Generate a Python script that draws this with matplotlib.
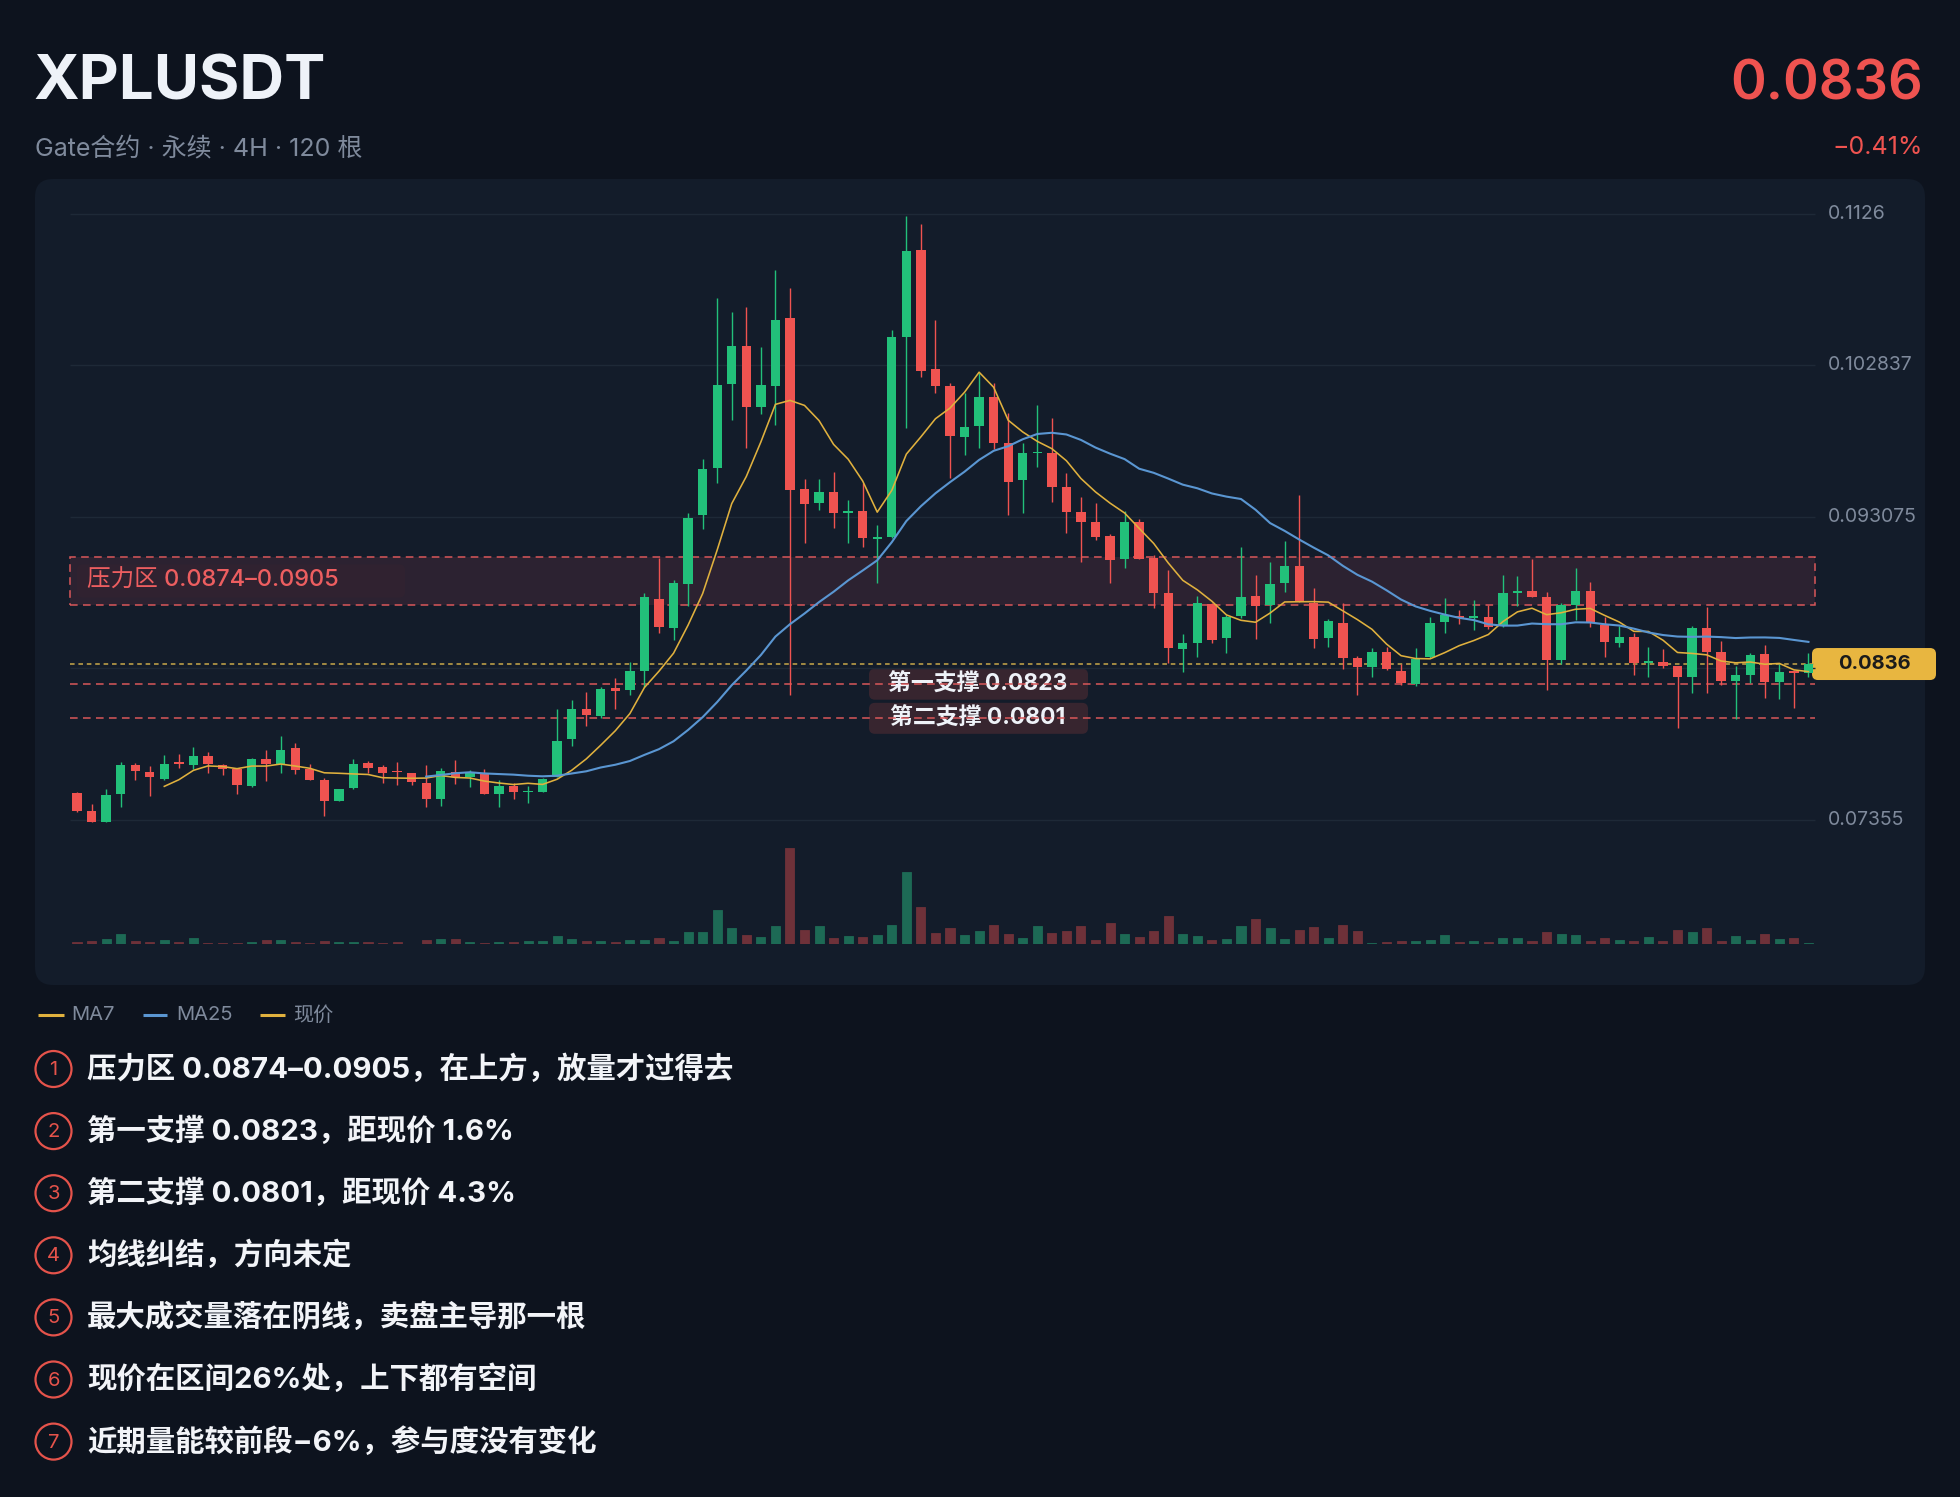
import numpy as np
import pandas as pd
import matplotlib
matplotlib.use("Agg")
import matplotlib.pyplot as plt
from matplotlib.patches import FancyBboxPatch, Rectangle, Circle

plt.rcParams['font.family'] = ['Inter', 'Noto Sans CJK SC', 'DejaVu Sans']

# ---- data ----
symbol = "XPLUSDT"
subtitle = "Gate合约 · 永续 · 4H · 120 根"
last_price_text = "0.0836"
change_text = "−0.41%"

opens = [0.07527, 0.07413, 0.07344, 0.0752, 0.07709, 0.07666, 0.07621, 0.07729, 0.07709, 0.07767,
         0.07709, 0.07681, 0.07574, 0.07746, 0.07716, 0.07817, 0.07681, 0.07613, 0.07477, 0.07559,
         0.0772, 0.07694, 0.0767, 0.07656, 0.07595, 0.07492, 0.07666, 0.0763, 0.07651, 0.07522,
         0.07574, 0.07535, 0.07537, 0.07634, 0.07876, 0.0807, 0.08027, 0.08203, 0.08191, 0.08313,
         0.08778, 0.08592, 0.08877, 0.09319, 0.09622, 0.10167, 0.1041, 0.10014, 0.1015, 0.10587,
         0.0949, 0.094, 0.0947, 0.09332, 0.09348, 0.09163, 0.09176, 0.10465, 0.11029, 0.10258,
         0.10152, 0.09825, 0.09894, 0.10079, 0.09786, 0.09546, 0.09717, 0.09717, 0.09499, 0.09338,
         0.09277, 0.09185, 0.09034, 0.09277, 0.09041, 0.08816, 0.08455, 0.08493, 0.08747, 0.08526,
         0.0867, 0.08798, 0.0874, 0.08885, 0.08992, 0.08755, 0.08526, 0.08626, 0.08397, 0.08343,
         0.0844, 0.08317, 0.08232, 0.08403, 0.08633, 0.0867, 0.08657, 0.08661, 0.08605, 0.08818,
         0.08829, 0.0879, 0.08386, 0.0874, 0.08829, 0.08611, 0.08497, 0.08532, 0.08369, 0.08375,
         0.08347, 0.08274, 0.0859, 0.0844, 0.08253, 0.08289, 0.08425, 0.08246, 0.08317, 0.083]
highs = [0.07535, 0.07458, 0.07552, 0.07726, 0.0772, 0.07703, 0.07774, 0.0778, 0.07823, 0.07795,
         0.07716, 0.07681, 0.07753, 0.07806, 0.07896, 0.07849, 0.07714, 0.07623, 0.07557, 0.07746,
         0.07737, 0.07709, 0.07726, 0.0766, 0.07709, 0.07688, 0.07742, 0.07677, 0.07681, 0.07613,
         0.07591, 0.07574, 0.07625, 0.0807, 0.08131, 0.0818, 0.08215, 0.08269, 0.08373, 0.08817,
         0.09045, 0.08899, 0.09331, 0.09682, 0.10717, 0.10628, 0.1066, 0.10403, 0.10902, 0.10786,
         0.09554, 0.0955, 0.09599, 0.09417, 0.09524, 0.09256, 0.10512, 0.11247, 0.11196, 0.10577,
         0.10169, 0.10104, 0.10233, 0.10169, 0.09976, 0.09782, 0.10029, 0.09943, 0.09589, 0.09438,
         0.09396, 0.09198, 0.09348, 0.09292, 0.09062, 0.08966, 0.08553, 0.08798, 0.08755, 0.08676,
         0.09116, 0.08934, 0.09019, 0.09155, 0.09449, 0.08848, 0.08648, 0.08751, 0.08412, 0.08461,
         0.08472, 0.0836, 0.08461, 0.08661, 0.08783, 0.08705, 0.08772, 0.0874, 0.08934, 0.08927,
         0.09035, 0.08823, 0.08751, 0.08977, 0.08891, 0.08661, 0.08605, 0.08562, 0.08468, 0.08455,
         0.08347, 0.08605, 0.08725, 0.0851, 0.08347, 0.08433, 0.08483, 0.0836, 0.0832, 0.08433]
lows = [0.07405, 0.07344, 0.07344, 0.0744, 0.07613, 0.07512, 0.07613, 0.07688, 0.07681, 0.0766,
        0.07645, 0.07522, 0.07566, 0.07608, 0.0766, 0.07651, 0.07613, 0.07383, 0.07477, 0.07552,
        0.0766, 0.07591, 0.07578, 0.0758, 0.0744, 0.07445, 0.07587, 0.0757, 0.07522, 0.0744,
        0.07488, 0.07466, 0.07537, 0.07634, 0.07832, 0.0796, 0.0801, 0.0807, 0.08162, 0.08215,
        0.0856, 0.08512, 0.08737, 0.09229, 0.09525, 0.09932, 0.0975, 0.09973, 0.099, 0.08162,
        0.09142, 0.0935, 0.09235, 0.09138, 0.09112, 0.0888, 0.0917, 0.09879, 0.10212, 0.10104,
        0.09557, 0.09707, 0.0975, 0.09743, 0.0932, 0.09335, 0.09632, 0.09406, 0.09202, 0.0902,
        0.09159, 0.0888, 0.08977, 0.09034, 0.08719, 0.08369, 0.08311, 0.08403, 0.08497, 0.08429,
        0.08655, 0.08519, 0.08622, 0.08826, 0.08762, 0.08461, 0.08472, 0.08326, 0.0816, 0.08274,
        0.08322, 0.08225, 0.08218, 0.08397, 0.08562, 0.08618, 0.08577, 0.08584, 0.08597, 0.08734,
        0.0879, 0.08193, 0.0836, 0.08644, 0.08601, 0.08407, 0.08468, 0.08289, 0.08274, 0.08333,
        0.07946, 0.08171, 0.08176, 0.08225, 0.08004, 0.08236, 0.08139, 0.08132, 0.08075, 0.08274]
closes = [0.07415, 0.07344, 0.07514, 0.07709, 0.07673, 0.0763, 0.07716, 0.07714, 0.07767, 0.07714,
          0.07681, 0.07578, 0.07746, 0.07716, 0.07806, 0.07677, 0.07613, 0.07477, 0.07557, 0.07716,
          0.07692, 0.0766, 0.07662, 0.07602, 0.07488, 0.0767, 0.0763, 0.07666, 0.07522, 0.07574,
          0.07535, 0.07543, 0.07619, 0.07864, 0.0807, 0.08034, 0.08196, 0.08186, 0.08318, 0.08793,
          0.08599, 0.08882, 0.09302, 0.09617, 0.10155, 0.1041, 0.10014, 0.10155, 0.1058, 0.09481,
          0.09391, 0.0947, 0.09335, 0.09348, 0.0917, 0.09176, 0.10465, 0.11024, 0.1025, 0.10152,
          0.09829, 0.09885, 0.10079, 0.09786, 0.09535, 0.09722, 0.09728, 0.09499, 0.09342, 0.09277,
          0.0918, 0.0903, 0.09277, 0.09034, 0.0882, 0.08461, 0.08493, 0.08751, 0.08515, 0.08661,
          0.0879, 0.08734, 0.08876, 0.08992, 0.08762, 0.08519, 0.08639, 0.08397, 0.08339, 0.0844,
          0.08326, 0.08236, 0.0839, 0.08626, 0.08676, 0.08655, 0.0867, 0.08597, 0.0882, 0.08829,
          0.0879, 0.08386, 0.0874, 0.08829, 0.08633, 0.08504, 0.08532, 0.08369, 0.08382, 0.08347,
          0.08274, 0.0859, 0.0844, 0.08253, 0.08289, 0.08418, 0.08246, 0.08311, 0.083, 0.0836]
volumes = [5, 8, 14, 30, 9, 5, 11, 6, 17, 4, 2, 2, 5, 11, 11, 6, 2, 8, 5, 5,
           5, 3, 5, 1, 11, 14, 14, 5, 2, 7, 5, 8, 8, 25, 14, 10, 8, 6, 11, 12,
           19, 10, 35, 35, 101, 49, 26, 20, 55, 287, 41, 53, 17, 25, 20, 26, 58, 216, 112, 33,
           48, 26, 40, 56, 31, 19, 55, 32, 40, 53, 11, 62, 31, 20, 38, 83, 29, 23, 11, 14,
           55, 74, 47, 15, 41, 52, 17, 56, 39, 2, 5, 8, 9, 13, 26, 5, 9, 5, 17, 18,
           10, 35, 29, 28, 9, 17, 11, 9, 21, 10, 42, 35, 48, 10, 23, 11, 29, 15, 19, 2]

# the label of the 0.0833 grid line sits under the price tag in the reference
y_ticks = [0.07355, 0.0833125, 0.093075, 0.1028375, 0.1126]
y_tick_labels = ["0.07355", "", "0.093075", "0.102837", "0.1126"]
resist_lo, resist_hi = 0.0874, 0.0905
support_levels = [0.0823, 0.0801]
support_labels = ["第一支撑 0.0823", "第二支撑 0.0801"]
resist_label = "压力区 0.0874–0.0905"
legend_items = ["MA7", "MA25", "现价"]
notes = [
    "压力区 0.0874–0.0905，在上方，放量才过得去",
    "第一支撑 0.0823，距现价 1.6%",
    "第二支撑 0.0801，距现价 4.3%",
    "均线纠结，方向未定",
    "最大成交量落在阴线，卖盘主导那一根",
    "现价在区间26%处，上下都有空间",
    "近期量能较前段−6%，参与度没有变化",
]

# ---- style ----
BG = '#0d131e'
PANEL = '#131c2a'
GRID = '#1e2937'
UP = '#22c07a'
DOWN = '#ef5350'
UP_VOL = '#1d6a55'
DOWN_VOL = '#6e3139'
MA7_C = '#e0b13e'
MA25_C = '#5a96d2'
GRAY = '#7f8a9c'
WHITE = '#eef2f8'

W, H = 1960, 1497
# pixel geometry of the price area
X0, DX = 77, 14.55          # px of first candle, px per candle
PY_TOP, PPU = 214, 15518    # px of top tick, px per price unit


def x_data(px):
    return (px - X0) / DX


def price_px(p):
    return PY_TOP + (y_ticks[-1] - p) * PPU


def fig_rect(x0, y0, x1, y1):
    return [x0 / W, 1 - y1 / H, (x1 - x0) / W, (y1 - y0) / H]


fig = plt.figure(figsize=(W / 100, H / 100), dpi=100)
fig.patch.set_facecolor(BG)

canvas = fig.add_axes([0, 0, 1, 1])
canvas.set_xlim(0, W)
canvas.set_ylim(H, 0)
canvas.axis('off')

canvas.add_patch(FancyBboxPatch((35, 179), 1890, 806, boxstyle="round,pad=0,rounding_size=18",
                                fc=PANEL, ec='none', zorder=0))

# header
canvas.text(33, 100, symbol, fontsize=44.5, fontweight='bold', color=WHITE, va='baseline')
canvas.text(35, 155, subtitle, fontsize=18, color=GRAY, va='baseline')
canvas.text(1923, 99, last_price_text, fontsize=39, fontweight='semibold', color=DOWN,
            ha='right', va='baseline')
canvas.text(1923, 154, change_text, fontsize=18, color=DOWN, ha='right', va='baseline')

# ---- price axes ----
ax = fig.add_axes(fig_rect(35, 190, 1925, 840))
ax.patch.set_alpha(0)
ax.axis('off')
ax.set_xlim(x_data(35), x_data(1925))
ax.set_ylim(y_ticks[-1] - (840 - PY_TOP) / PPU, y_ticks[-1] + (PY_TOP - 190) / PPU)

gx0, gx1 = x_data(70), x_data(1815)
ax.hlines(y_ticks, gx0, gx1, color=GRID, lw=1, zorder=1)
for v, lab in zip(y_ticks, y_tick_labels):
    ax.text(x_data(1828), v, lab, fontsize=14, color=GRAY, va='center', ha='left',
            clip_on=False, zorder=2)

# resistance zone
ax.add_patch(Rectangle((gx0, resist_lo), gx1 - gx0, resist_hi - resist_lo,
                       fc=(0.85, 0.32, 0.38, 0.13), ec='#d9575a', lw=1.1,
                       ls=(0, (5, 3.5)), zorder=1))
# support lines and current price
ax.hlines(support_levels, gx0, gx1, color='#d9575a', lw=1.1, ls=(0, (5, 3.5)), zorder=1)
ax.hlines(closes[-1], gx0, gx1, color='#c9a84a', lw=1.1, ls=(0, (3, 2.5)), zorder=1)

# candles
idx = np.arange(len(closes))
o = np.array(opens)
c = np.array(closes)
up = c >= o
colors = np.where(up, UP, DOWN)
ax.vlines(idx, lows, highs, colors=colors, lw=1.0, zorder=3)
body = np.maximum(np.abs(c - o), 0.00005)
ax.bar(idx, body, bottom=np.minimum(o, c), width=0.64, color=colors, zorder=4)

# moving averages
ma7 = pd.Series(closes).rolling(7).mean()
ma25 = pd.Series(closes).rolling(25).mean()
ax.plot(idx, ma7, color=MA7_C, lw=1.15, zorder=5)
ax.plot(idx, ma25, color=MA25_C, lw=1.5, zorder=5)

# ---- volume axes ----
vax = fig.add_axes(fig_rect(35, 844, 1925, 944))
vax.patch.set_alpha(0)
vax.axis('off')
vax.set_xlim(x_data(35), x_data(1925))
vax.set_ylim(0, 300)
vax.bar(idx, volumes, width=0.62, color=np.where(up, UP_VOL, DOWN_VOL),
        edgecolor=np.where(up, UP_VOL, DOWN_VOL), lw=0.6, zorder=2)

# ---- labels on price levels ----
ry = price_px((resist_lo + resist_hi) / 2)
canvas.add_patch(FancyBboxPatch((77, ry - 16.5), 328, 33, boxstyle="round,pad=0,rounding_size=6",
                                fc='#181d29', ec='none', alpha=0.9, zorder=6))
canvas.text(87, ry, resist_label, fontsize=17, fontweight='medium', color='#f06060',
            va='center', ha='left', zorder=7)

for lvl, lab in zip(support_levels, support_labels):
    sy = price_px(lvl)
    canvas.add_patch(FancyBboxPatch((869, sy - 15.5), 219, 31, boxstyle="round,pad=0,rounding_size=6",
                                    fc='#3a2630', ec='none', alpha=0.95, zorder=6))
    canvas.text(978, sy, lab, fontsize=16.5, fontweight='bold', color=WHITE,
                va='center', ha='center', zorder=7)

# current price tag
cy = price_px(closes[-1])
canvas.add_patch(FancyBboxPatch((1812, cy - 16), 124, 32, boxstyle="round,pad=0,rounding_size=6",
                                fc='#e8b640', ec='none', zorder=8))
canvas.text(1874, cy, last_price_text, fontsize=14.5, fontweight='bold', color='#1b1b1b',
            va='center', ha='center', zorder=9)

# ---- legend ----
leg_y = 1015
for (lx0, lx1, tx), lab, col in zip([(38, 64, 71), (143, 167, 176), (260, 285, 293)],
                                    legend_items, [MA7_C, MA25_C, MA7_C]):
    canvas.plot([lx0, lx1], [leg_y, leg_y], color=col, lw=2.2, solid_capstyle='butt')
    canvas.text(tx, leg_y, lab, fontsize=14.5, color=GRAY, va='center', ha='left')

# ---- notes ----
for k, txt in enumerate(notes):
    ny = 1069 + k * 62.1
    canvas.add_patch(Circle((53.5, ny), 18, fill=False, ec='#e5534b', lw=1.6))
    canvas.text(53.5, ny + 1, str(k + 1), fontsize=14.5, color='#e5534b', ha='center', va='center')
    canvas.text(87, ny, txt, fontsize=21.2, fontweight='bold', color='#f2f4f8',
                va='center', ha='left')

fig.savefig("out.png", dpi=100, facecolor=BG)
